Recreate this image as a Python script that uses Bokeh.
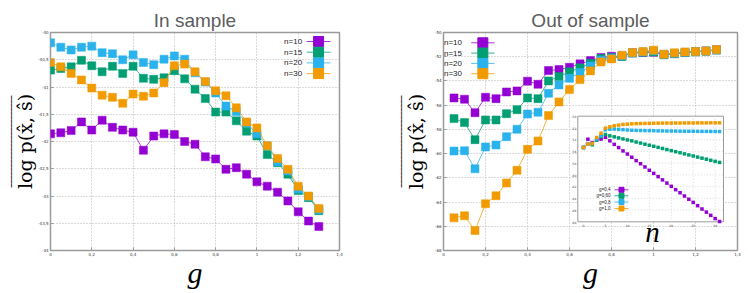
from bokeh.plotting import figure
from bokeh.models import Range1d, FixedTicker, Title
from bokeh.layouts import row
from bokeh.embed import file_html
from bokeh.resources import INLINE
from bokeh.core.properties import value

# ---------------- data ----------------
series_names = ["n=10", "n=15", "n=20", "n=30"]
inset_names = ["g=0,4", "g=0,60", "g=0,8", "g=1,0"]
colors = ["#9400d3", "#009e73", "#29b2ec", "#f29b00"]

g_in = [0.0, 0.05, 0.1, 0.15, 0.2, 0.25, 0.3, 0.35, 0.4, 0.45, 0.5, 0.55, 0.6, 0.65,
        0.7, 0.75, 0.8, 0.85, 0.9, 0.95, 1.0, 1.05, 1.1, 1.15, 1.2, 1.25, 1.3]
in_n10 = [-41.86, -41.84, -41.80, -41.64, -41.79, -41.61, -41.74, -41.79, -41.83, -42.16,
          -41.90, -41.86, -41.87, -42.00, -42.05, -42.28, -42.32, -42.51, -42.48, -42.60,
          -42.74, -42.82, -42.93, -43.09, -43.29, -43.46, -43.56]
in_n15 = [-40.69, -40.66, -40.63, -40.51, -40.61, -40.72, -40.62, -40.75, -40.62, -40.84,
          -40.86, -40.83, -40.70, -40.85, -41.04, -41.21, -41.46, -41.46, -41.62, -41.81,
          -41.90, -42.24, -42.39, -42.60, -42.90, -43.03, -43.27]
in_n20 = [-40.19, -40.27, -40.32, -40.27, -40.25, -40.37, -40.39, -40.50, -40.41, -40.55,
          -40.59, -40.49, -40.43, -40.49, -40.74, -40.91, -41.11, -41.35, -41.45, -41.66,
          -41.86, -42.08, -42.37, -42.54, -42.87, -43.01, -43.25]
in_n30 = [-40.55, -40.63, -40.75, -40.87, -41.02, -41.15, -41.19, -41.30, -41.13, -41.17,
          -41.11, -40.92, -40.61, -40.58, -40.72, -40.90, -41.07, -41.16, -41.38, -41.64,
          -41.75, -42.08, -42.31, -42.51, -42.82, -43.00, -43.23]

g_out = [0.05, 0.1, 0.15, 0.2, 0.25, 0.3, 0.35, 0.4, 0.45, 0.5, 0.55, 0.6, 0.65,
         0.7, 0.75, 0.8, 0.85, 0.9, 0.95, 1.0, 1.05, 1.1, 1.15, 1.2, 1.25, 1.3]
out_n10 = [-55.40, -55.51, -56.62, -55.35, -55.46, -54.91, -54.82, -54.02, -54.27, -53.14,
           -53.06, -52.87, -52.59, -52.32, -52.07, -51.96, -51.96, -51.68, -51.65, -51.63,
           -51.82, -51.74, -51.65, -51.57, -51.52, -51.43]
out_n15 = [-57.11, -57.44, -58.85, -57.22, -57.22, -56.70, -56.37, -55.40, -55.46, -54.00,
           -53.64, -53.25, -52.92, -52.54, -52.15, -52.07, -51.98, -51.70, -51.64, -51.60,
           -51.84, -51.75, -51.66, -51.60, -51.54, -51.45]
out_n20 = [-59.79, -59.76, -61.25, -59.45, -59.29, -58.60, -57.99, -56.73, -56.59, -55.02,
           -54.33, -53.78, -53.31, -52.76, -52.29, -52.12, -51.93, -51.68, -51.60, -51.52,
           -51.80, -51.72, -51.64, -51.58, -51.53, -51.44]
out_n30 = [-65.30, -65.13, -66.35, -64.14, -63.48, -62.43, -61.38, -59.65, -58.96, -56.86,
           -55.73, -54.71, -53.89, -53.17, -52.43, -52.18, -51.87, -51.65, -51.57, -51.46,
           -51.79, -51.68, -51.60, -51.57, -51.52, -51.41]

n_inset = [0, 1, 2, 3, 4, 5, 6, 7, 8, 9, 10, 11, 12, 13, 14, 15,
           16, 17, 18, 19, 20, 21, 22, 23, 24, 25, 26, 27, 28, 29, 30, 31]
ins_g04 = [-55.33, -53.92, -54.50, -54.00, -53.90, -53.60, -54.20, -54.80, -55.35, -55.92,
           -56.45, -57.00, -57.57, -58.10, -58.65, -59.22, -59.75, -60.30, -60.86, -61.40,
           -61.95, -62.52, -63.05, -63.60, -64.16, -64.70, -65.25, -65.82, -66.35, -66.90,
           -67.45, -67.95]
ins_g06 = [-55.33, -54.77, -54.88, -54.09, -53.46, -53.12, -53.35, -53.52, -53.70, -53.87,
           -54.05, -54.20, -54.40, -54.58, -54.77, -54.95, -55.13, -55.32, -55.50, -55.68,
           -55.87, -56.05, -56.23, -56.42, -56.60, -56.78, -56.97, -57.15, -57.33, -57.52,
           -57.70, -57.88]
ins_g08 = [-55.33, -54.77, -54.66, -53.90, -53.35, -52.32, -52.21, -52.20, -52.25, -52.30,
           -52.35, -52.40, -52.42, -52.44, -52.45, -52.47, -52.48, -52.50, -52.51, -52.52,
           -52.53, -52.54, -52.55, -52.56, -52.57, -52.57, -52.58, -52.59, -52.59, -52.60,
           -52.60, -52.61]
ins_g10 = [-55.33, -54.77, -54.66, -53.63, -52.90, -52.04, -51.81, -51.64, -51.52, -51.41,
           -51.36, -51.30, -51.27, -51.25, -51.23, -51.21, -51.20, -51.19, -51.18, -51.17,
           -51.17, -51.16, -51.16, -51.15, -51.15, -51.15, -51.14, -51.14, -51.14, -51.13,
           -51.13, -51.13]

x_ticks = [0, 0.2, 0.4, 0.6, 0.8, 1, 1.2, 1.4]
x_tick_labels = ["0", "0,2", "0,4", "0,6", "0,8", "1", "1,2", "1,4"]
y_in_ticks = [-44, -43.5, -43, -42.5, -42, -41.5, -41, -40.5, -40]
y_in_labels = ["-44", "-43,5", "-43", "-42,5", "-42", "-41,5", "-41", "-40,5", "-40"]
y_out_ticks = [-68, -66, -64, -62, -60, -58, -56, -54, -52, -50]
y_out_labels = ["-68", "-66", "-64", "-62", "-60", "-58", "-56", "-54", "-52", "-50"]
ins_x_ticks = [0, 5, 10, 15, 20, 25, 30]
ins_x_labels = ["0", "5", "10", "15", "20", "25", "30"]
ins_y_ticks = y_out_ticks
ins_y_labels = y_out_labels

# ---------------- styling helpers ----------------
FH = 218
H = 293
TOP = 32
GRID = "#b4b4b4"
BORDER = "#9a9a9a"

YLABEL = "log p(x\u0302, s\u0302)"
OVERBAR = "_" * 23


def make_fig(title, yr, yticks, ylabels, bl, br, fw, ylab_standoff):
    p = figure(width=bl + fw + br, height=H, x_range=Range1d(0, 1.4), y_range=Range1d(*yr),
               output_backend="svg", toolbar_location=None,
               min_border_left=bl, min_border_right=br, min_border_top=TOP,
               min_border_bottom=H - TOP - FH, title=title)
    p.title.text_font = "Liberation Sans"
    p.title.text_font_size = "19px"
    p.title.text_font_style = "normal"
    p.title.text_color = "#5c5c5c"
    p.title.align = "center"
    p.title.standoff = 0
    p.title.offset = 0
    p.title.vertical_align = "top"
    p.outline_line_color = BORDER
    p.outline_line_width = 1.5
    p.background_fill_color = "white"
    p.border_fill_color = "white"

    p.xaxis.ticker = FixedTicker(ticks=x_ticks)
    p.xaxis.major_label_overrides = dict(zip(x_ticks, x_tick_labels))
    p.yaxis.ticker = FixedTicker(ticks=yticks)
    p.yaxis.major_label_overrides = dict(zip(yticks, ylabels))
    for ax in (p.xaxis[0], p.yaxis[0]):
        ax.axis_line_color = None
        ax.major_tick_in = 3
        ax.major_tick_out = 0
        ax.major_tick_line_color = BORDER
        ax.minor_tick_line_color = None
        ax.major_label_text_font = "DejaVu Sans"
        ax.major_label_text_font_size = "4px"
        ax.major_label_text_color = "#333333"
        ax.major_label_standoff = 2
    p.xaxis.axis_label = "g"
    p.xaxis.axis_label_text_font = "Liberation Serif"
    p.xaxis.axis_label_text_font_style = "italic"
    p.xaxis.axis_label_text_font_size = "30px"
    p.xaxis.axis_label_text_color = "black"
    p.xaxis.axis_label_standoff = -3
    p.yaxis.axis_label = YLABEL
    p.yaxis.axis_label_text_font = "DejaVu Serif"
    p.yaxis.axis_label_text_font_style = "normal"
    p.yaxis.axis_label_text_font_size = "19px"
    p.yaxis.axis_label_text_color = "black"
    p.yaxis.axis_label_standoff = ylab_standoff
    # overline of the y-axis label
    p.add_layout(Title(text=OVERBAR, align="center", text_font="DejaVu Sans",
                       text_font_size="8px", text_font_style="bold", text_color="black",
                       standoff=0, offset=0), "left")

    p.grid.grid_line_color = GRID
    p.grid.grid_line_dash = "1 2"
    p.grid.grid_line_width = 1

    p.extra_x_ranges = {"px": Range1d(0, fw)}
    p.extra_y_ranges = {"py": Range1d(FH, 0)}
    return p


def draw_series(p, xs, ys_list, size):
    for ys, c in zip(ys_list, colors):
        p.line(xs, ys, line_color=c, line_width=1, line_alpha=0.75)
        p.scatter(xs, ys, marker="square", size=size, fill_color=c, line_color=c, line_width=0.5)


def draw_legend(p, names, text_x, line_x0, line_x1, ys, font_size, sq, rng=("px", "py")):
    for name, c, yy in zip(names, colors, ys):
        p.text(x=[text_x], y=[yy], text=[name], x_range_name=rng[0], y_range_name=rng[1],
               text_align="right", text_baseline="middle", text_font=value("Liberation Sans"),
               text_font_size=font_size, text_color="#222222", level="overlay")
        p.line(x=[line_x0, line_x1], y=[yy, yy], x_range_name=rng[0], y_range_name=rng[1],
               line_color=c, line_width=1, line_alpha=0.8, level="overlay")
        p.scatter(x=[(line_x0 + line_x1) / 2], y=[yy], x_range_name=rng[0], y_range_name=rng[1],
                  marker="square", size=sq, fill_color=c, line_color=c, level="overlay")


# ---------------- left: in sample ----------------
FW1 = 290
p1 = make_fig("In sample", (-44, -40), y_in_ticks, y_in_labels, 49, 35, FW1, -1)
draw_series(p1, g_in, [in_n10, in_n15, in_n20, in_n30], 8)
draw_legend(p1, series_names, 252.5, 257, 281, [9, 19.7, 30.4, 41.1], "8px", 10)

# ---------------- right: out of sample ----------------
FW2 = 294
p2 = make_fig("Out of sample", (-68, -50), y_out_ticks, y_out_labels, 69, 11, FW2, 5)
draw_series(p2, g_out, [out_n10, out_n15, out_n20, out_n30], 8)
draw_legend(p2, series_names, 18.5, 27.7, 51, [10.3, 20.6, 30.9, 41.2], "8px", 10)

# inset mapped onto the right frame through extra ranges
ix0, ix1 = -1.3, 31.9
iy0, iy1 = -68, -50
pl, pr, pt, pb = 134.3, 280.0, 83.7, 189.3
kx = (ix1 - ix0) / (pr - pl)
xs0 = ix0 - pl * kx
ky = (iy1 - iy0) / (pb - pt)
ys0 = iy0 - (FH - pb) * ky
p2.extra_x_ranges["ix"] = Range1d(xs0, xs0 + FW2 * kx)
p2.extra_y_ranges["iy"] = Range1d(ys0, ys0 + FH * ky)
R = dict(x_range_name="ix", y_range_name="iy")

p2.quad(left=[ix0], right=[ix1], bottom=[iy0], top=[iy1], fill_color="white",
        line_color=BORDER, line_width=1, level="annotation", **R)
gx = [t for t in ins_x_ticks if ix0 < t < ix1 and t != 0]
gy = [t for t in ins_y_ticks if iy0 < t < iy1]
p2.segment(x0=gx, y0=[iy0] * len(gx), x1=gx, y1=[iy1] * len(gx), line_color="#d0d0d0",
           line_dash="1 2", line_width=0.8, level="overlay", **R)
p2.segment(x0=[ix0] * len(gy), y0=gy, x1=[ix1] * len(gy), y1=gy, line_color="#d0d0d0",
           line_dash="1 2", line_width=0.8, level="overlay", **R)
p2.text(x=ins_x_ticks, y=[iy0] * len(ins_x_ticks), text=ins_x_labels, y_offset=2,
        text_align="center", text_baseline="top", text_font=value("DejaVu Sans"),
        text_font_size="3px", text_color="#444444", level="overlay", **R)
p2.text(x=[ix0] * len(ins_y_ticks), y=ins_y_ticks, text=ins_y_labels, x_offset=-1.5,
        text_align="right", text_baseline="middle", text_font=value("DejaVu Sans"),
        text_font_size="3px", text_color="#444444", level="overlay", **R)
for ys, c in zip([ins_g04, ins_g06, ins_g08, ins_g10], colors):
    p2.line(n_inset, ys, line_color=c, line_width=0.6, line_alpha=0.5, level="overlay", **R)
    p2.scatter(n_inset, ys, marker="square", size=3.5, fill_color=c, line_color=None,
               level="overlay", **R)
draw_legend(p2, inset_names, 167, 171, 185, [157.3, 163.3, 169.5, 176], "4.5px", 5)
p2.text(x=[209], y=[199], text=["n"], x_range_name="px", y_range_name="py",
        text_align="center", text_baseline="alphabetic", text_font=value("Liberation Serif"),
        text_font_style="italic", text_font_size="29px", text_color="black", level="overlay")

layout = row(p1, p2)
open("out.html", "w").write(file_html(layout, INLINE))
